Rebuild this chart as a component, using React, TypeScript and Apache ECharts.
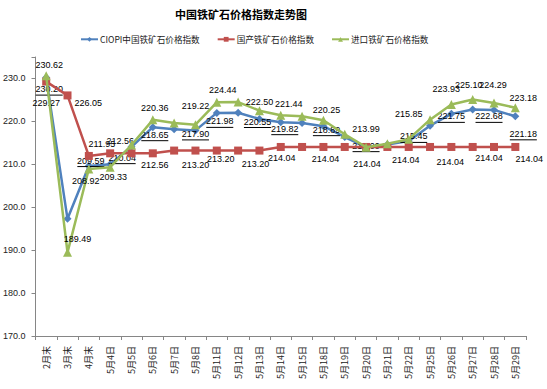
import React, { useEffect, useRef } from 'react';
import * as echarts from 'echarts';

const categories = ['2月末', '3月末', '4月末', '5月4日', '5月5日', '5月6日', '5月7日', '5月8日', '5月11日', '5月12日', '5月13日', '5月14日', '5月15日', '5月18日', '5月19日', '5月20日', '5月21日', '5月22日', '5月25日', '5月26日', '5月27日', '5月28日', '5月29日'];
const ciopiIndex = [230.20, 197.30, 209.59, 210.04, 214.07, 218.65, 218.19, 217.90, 221.98, 222.01, 220.55, 219.82, 219.63, 218.89, 216.36, 214.00, 214.63, 215.45, 219.00, 221.75, 222.77, 222.68, 221.18];
const domesticIndex = [229.27, 226.05, 211.95, 212.56, 212.56, 212.56, 213.20, 213.20, 213.20, 213.20, 213.20, 214.04, 214.04, 214.04, 214.04, 214.04, 214.04, 214.04, 214.04, 214.04, 214.04, 214.04, 214.04];
const importIndex = [230.62, 189.49, 208.92, 209.33, 214.50, 220.36, 219.60, 219.22, 224.44, 224.50, 222.50, 221.44, 221.20, 220.25, 217.00, 213.99, 214.80, 215.85, 220.40, 223.93, 225.10, 224.29, 223.18];
const seriesNames = ['CIOPI中国铁矿石价格指数', '国产铁矿石价格指数', '进口铁矿石价格指数'];
const yTicks = { min: 170, max: 235, interval: 10 };

// label placement: [index, position, dx, dy]
type Spec = [number, string, number, number];
const ciopiLabels: Spec[] = [[0, 'bottom', 3, 3], [2, 'top', 2, 4], [3, 'top', 12, 3], [5, 'bottom', 2, -1], [7, 'bottom', 0, -5], [8, 'bottom', 3, 0], [10, 'bottom', -2, -6], [11, 'bottom', 4, -2], [13, 'bottom', 3, -5], [15, 'bottom', 0, -10], [17, 'bottom', 5, -13], [19, 'bottom', 0, -6], [21, 'bottom', -5, -2], [22, 'bottom', 8, 9]];
const domesticLabels: Spec[] = [[0, 'bottom', 0, 10], [1, 'right', 0, 8], [2, 'top', 13, 0], [3, 'top', 10, -1], [5, 'bottom', 2, 0], [7, 'bottom', 0, 3], [8, 'bottom', 4, -3], [10, 'bottom', -4, 2], [11, 'bottom', 1, 0], [13, 'bottom', 2, 1], [15, 'bottom', 1, 6], [17, 'bottom', -3, 2], [19, 'bottom', -1, 4], [21, 'bottom', -5, 0], [22, 'bottom', 14, 1]];
const importLabels: Spec[] = [[0, 'top', 3, 1], [1, 'top', 10, -1], [2, 'bottom', -3, 0], [3, 'bottom', 3, -2], [5, 'top', 2, 0], [7, 'top', 0, -7], [8, 'top', 6, 0], [10, 'top', 0, 3], [11, 'top', 8, 1], [13, 'top', 3, 2], [15, 'top', 0, -6], [17, 'top', 0, -13], [19, 'top', -5, -4], [20, 'top', -4, -2], [21, 'top', -1, -6], [22, 'top', 8, 2]];

const NUM_FONT = "'Liberation Sans', 'Noto Sans CJK SC', sans-serif";
const CJK_FONT = "'Noto Sans CJK SC', 'Liberation Sans', sans-serif";

function buildData(values: number[], specs: Spec[]) {
  const map = new Map<number, Spec>();
  specs.forEach((s) => map.set(s[0], s));
  return values.map((v, i) => {
    const s = map.get(i);
    if (!s) return { value: v, label: { show: false } };
    return { value: v, label: { show: true, position: s[1], offset: [s[2], s[3]] } };
  });
}

export default function App() {
  const ref = useRef<HTMLDivElement>(null);
  useEffect(() => {
    if (!ref.current) return;
    const chart = echarts.init(ref.current, undefined, { renderer: 'svg' });
    const plainLabel = {
      distance: 3,
      fontSize: 9,
      fontFamily: NUM_FONT,
      color: '#000',
      formatter: (p: any) => Number(p.value).toFixed(2),
    };
    chart.setOption({
      animation: false,
      backgroundColor: '#fff',
      title: {
        text: '中国铁矿石价格指数走势图',
        left: 175,
        top: 8,
        padding: 0,
        textStyle: { fontSize: 11, fontWeight: 'bold', color: '#000', fontFamily: CJK_FONT },
      },
      legend: {
        left: 80,
        top: 35,
        padding: 0,
        itemGap: 17,
        itemWidth: 17,
        itemHeight: 6,
        textStyle: { fontSize: 8.6, color: '#222', fontFamily: CJK_FONT, padding: [0, 0, 0, -3] },
        data: seriesNames,
      },
      grid: { left: 33, right: 21, top: 57, bottom: 53, containLabel: false },
      xAxis: {
        type: 'category',
        data: categories,
        boundaryGap: true,
        axisLine: { lineStyle: { color: '#868686' } },
        axisTick: { show: true, length: 4, inside: false, alignWithLabel: false, lineStyle: { color: '#868686' } },
        axisLabel: { rotate: 90, fontSize: 9, color: '#222', fontFamily: CJK_FONT, margin: 10, interval: 0 },
        splitLine: { show: false },
      },
      yAxis: {
        type: 'value',
        min: yTicks.min,
        max: yTicks.max,
        interval: yTicks.interval,
        axisLine: { show: true, lineStyle: { color: '#868686' } },
        axisTick: { show: true, length: 4, lineStyle: { color: '#868686' } },
        axisLabel: {
          fontSize: 9,
          color: '#222',
          fontFamily: NUM_FONT,
          margin: 10,
          formatter: (v: number) => (v > 230 ? '' : v.toFixed(1)),
        },
        splitLine: { show: false },
      },
      series: [
        {
          name: seriesNames[0],
          type: 'line',
          data: buildData(ciopiIndex, ciopiLabels),
          symbol: 'diamond',
          symbolSize: 8,
          lineStyle: { width: 2.5, color: '#4F81BD' },
          itemStyle: { color: '#4F81BD' },
          label: {
            distance: -1,
            fontFamily: NUM_FONT,
            formatter: (p: any) => `{v|${Number(p.value).toFixed(2)}}\n{u|}`,
            rich: {
              v: { fontSize: 9, color: '#000', fontFamily: NUM_FONT, align: 'center', lineHeight: 11 },
              u: { width: 27, height: 1, lineHeight: 1, backgroundColor: '#000', align: 'center' },
            },
          },
          z: 2,
        },
        {
          name: seriesNames[1],
          type: 'line',
          data: buildData(domesticIndex, domesticLabels),
          symbol: 'rect',
          symbolSize: 8,
          lineStyle: { width: 2.5, color: '#C0504D' },
          itemStyle: { color: '#C0504D' },
          label: plainLabel,
          z: 3,
        },
        {
          name: seriesNames[2],
          type: 'line',
          data: buildData(importIndex, importLabels),
          symbol: 'triangle',
          symbolSize: 9,
          lineStyle: { width: 2.5, color: '#9BBB59' },
          itemStyle: { color: '#9BBB59' },
          label: plainLabel,
          z: 4,
        },
      ],
    });
    return () => chart.dispose();
  }, []);
  return (
    <div
      ref={ref}
      style={{ position: 'absolute', left: 0, top: 0, width: 547, height: 389, background: '#fff' }}
    />
  );
}
